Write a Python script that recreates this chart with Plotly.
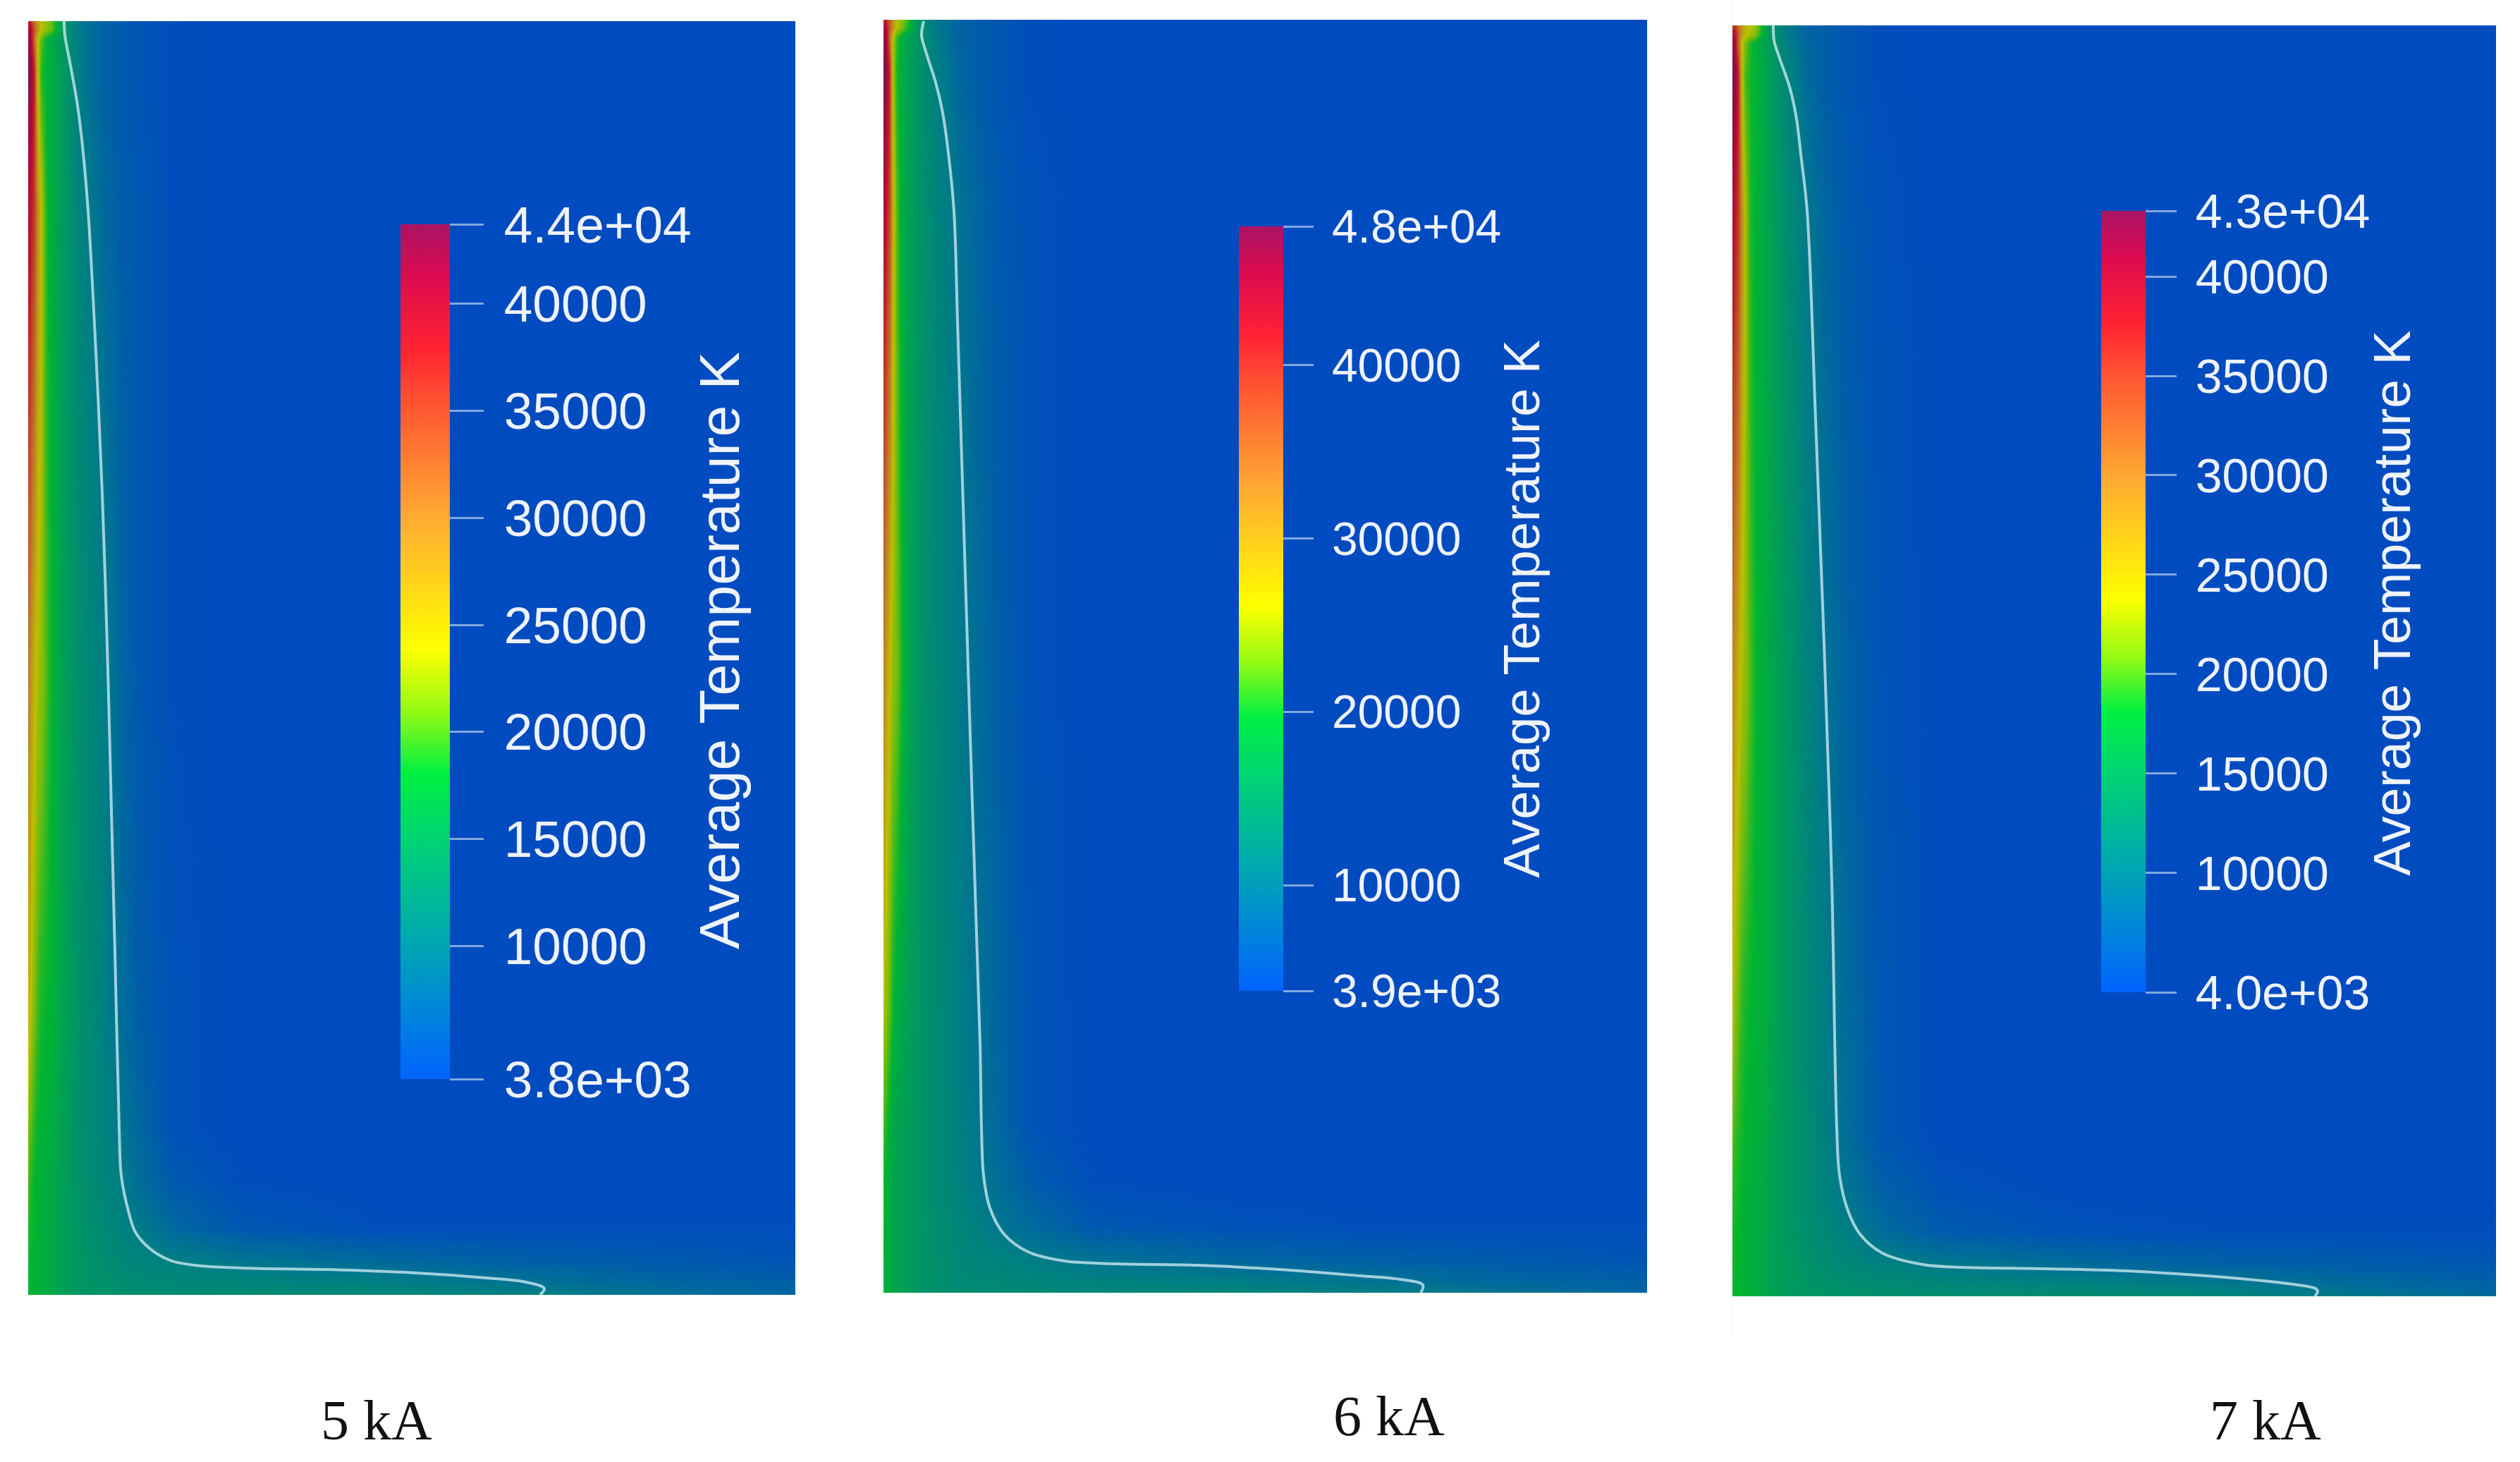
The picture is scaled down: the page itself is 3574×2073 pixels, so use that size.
import plotly.graph_objects as go

FIG_W = 3574
FIG_H = 2073

# colour stops; the field itself renders darker than its bar
COLOR_STOPS = [0, 0.155, 0.29, 0.358, 0.43, 0.504, 0.657, 0.782, 0.855, 0.94, 1]
BAR_COLORS = ["#0064ff", "#00a5b4", "#00d76e", "#00f041", "#96fa14", "#ffff00",
              "#ffaa32", "#ff5a32", "#ff2332", "#dc0a50", "#aa1464"]
FIELD_COLORS = ["#004bbf", "#007c87", "#00a153", "#00b431", "#70bc0f", "#bfbf00",
                "#bf8026", "#bf4426", "#bf1a26", "#a5083c", "#800f4b"]

CASES = ["5 kA", "6 kA", "7 kA"]
BAR_TITLE = "Average Temperature K"

# temperature range and labelled ticks of each colour bar
T_MIN_5 = 3800
T_MAX_5 = 43700
TICKS_5 = [3800, 10000, 15000, 20000, 25000, 30000, 35000, 40000, 43700]
LABELS_5 = ["3.8e+03", "10000", "15000", "20000", "25000", "30000", "35000", "40000", "4.4e+04"]

T_MIN_6 = 3900
T_MAX_6 = 48000
TICKS_6 = [3900, 10000, 20000, 30000, 40000, 48000]
LABELS_6 = ["3.9e+03", "10000", "20000", "30000", "40000", "4.8e+04"]

T_MIN_7 = 4000
T_MAX_7 = 43300
TICKS_7 = [4000, 10000, 15000, 20000, 25000, 30000, 35000, 40000, 43300]
LABELS_7 = ["4.0e+03", "10000", "15000", "20000", "25000", "30000", "35000", "40000", "4.3e+04"]

# sampling of the field: distance from the left wall and from the top of each panel
R_GRID = [0, 3, 8, 13, 18, 25, 33, 50, 73, 107, 130, 157, 207, 300, 500, 700, 900, 1088]
Z_GRID_5 = [0, 12, 25, 70, 270, 920, 1400, 1570, 1650, 1710, 1760, 1790, 1806]
Z_GRID_6 = [0, 12, 25, 70, 270, 920, 1400, 1570, 1650, 1710, 1760, 1790, 1805]
Z_GRID_7 = [0, 12, 25, 70, 270, 920, 1400, 1570, 1650, 1710, 1760, 1790, 1802]

TEMP_5 = [
    [37700, 37700, 31700, 27700, 23800, 22200, 20600, 13400, 9400, 6600, 5800, 5000, 4200, 3800, 3800, 3800, 3800, 3800],
    [40500, 40500, 33700, 28500, 23800, 22200, 20600, 14200, 9400, 6600, 5800, 5000, 4200, 3800, 3800, 3800, 3800, 3800],
    [42100, 42100, 32500, 24500, 20600, 18200, 16600, 13800, 9800, 6600, 5800, 5000, 4200, 3800, 3800, 3800, 3800, 3800],
    [43700, 42900, 37700, 24500, 19000, 17800, 17000, 14200, 9800, 6600, 5800, 5000, 4200, 3800, 3800, 3800, 3800, 3800],
    [40500, 38900, 35700, 29300, 23800, 19000, 17000, 14200, 11000, 7800, 6200, 5400, 4200, 3800, 3800, 3800, 3800, 3800],
    [30900, 28500, 25300, 23000, 22200, 20200, 18200, 15000, 12600, 10200, 7400, 5400, 4200, 3800, 3800, 3800, 3800, 3800],
    [25700, 23800, 21400, 19800, 18600, 18200, 17800, 15400, 13000, 10600, 8200, 6200, 4600, 3800, 3800, 3800, 3800, 3800],
    [21400, 20600, 19000, 18200, 17800, 17400, 17000, 15000, 13000, 11000, 9400, 7400, 4600, 3800, 3800, 3800, 3800, 3800],
    [19800, 19000, 18200, 17800, 17400, 17000, 16600, 15000, 13000, 11400, 10200, 8200, 5800, 4200, 3800, 3800, 3800, 3800],
    [19000, 18600, 18200, 17800, 17400, 17000, 16600, 15000, 13400, 11800, 11000, 9800, 7400, 5400, 4200, 4200, 4200, 4200],
    [18600, 18200, 17800, 17800, 17400, 17000, 16600, 15000, 13800, 12600, 11800, 11400, 10600, 9400, 7800, 6600, 5800, 5000],
    [18200, 18200, 17800, 17400, 17400, 17000, 16600, 15000, 13800, 13000, 12600, 12200, 11800, 11400, 10600, 9000, 7400, 6600],
    [18200, 18200, 17800, 17400, 17400, 17000, 16600, 15000, 13800, 13400, 13000, 12600, 12200, 12200, 11800, 10600, 8600, 7000],
]

TEMP_6 = [
    [41400, 41400, 35600, 31200, 26800, 24200, 21500, 13600, 10500, 7400, 6500, 5700, 4300, 3900, 3900, 3900, 3900, 3900],
    [44500, 44500, 37400, 31200, 25900, 23300, 20700, 14500, 10500, 7400, 6500, 5700, 4300, 3900, 3900, 3900, 3900, 3900],
    [46200, 46200, 35600, 25900, 21500, 18900, 17100, 14500, 11000, 7400, 6500, 5700, 4300, 3900, 3900, 3900, 3900, 3900],
    [48000, 47100, 41400, 25100, 20700, 18500, 17100, 14500, 11400, 7900, 6500, 5700, 4300, 3900, 3900, 3900, 3900, 3900],
    [44500, 42700, 38300, 28600, 22400, 18900, 17100, 14500, 12300, 9600, 7900, 6100, 4800, 3900, 3900, 3900, 3900, 3900],
    [33000, 30400, 26800, 24200, 23300, 20700, 17600, 14900, 12700, 10500, 8800, 7000, 4800, 3900, 3900, 3900, 3900, 3900],
    [25900, 24200, 22400, 20200, 18900, 17600, 16700, 14900, 13200, 11000, 9600, 7900, 5200, 3900, 3900, 3900, 3900, 3900],
    [21500, 20700, 19300, 18000, 17100, 16700, 16200, 14900, 13200, 11400, 10100, 8300, 5200, 3900, 3900, 3900, 3900, 3900],
    [20200, 19300, 18500, 17600, 17100, 16700, 16200, 14900, 13200, 11800, 10500, 9200, 6500, 4300, 3900, 3900, 3900, 3900],
    [19800, 19300, 18500, 17600, 17100, 16700, 16200, 14900, 13600, 12300, 11400, 10100, 8300, 5700, 4800, 4300, 4300, 4300],
    [19300, 18900, 18500, 17600, 17100, 16700, 16200, 14900, 14000, 12700, 12300, 11800, 11000, 9600, 7900, 7000, 6100, 5200],
    [19300, 18900, 18500, 17600, 17100, 16700, 16200, 14900, 14000, 13200, 12700, 12700, 12300, 11800, 11000, 9600, 7900, 7000],
    [19300, 18900, 18500, 17600, 17100, 16700, 16200, 14900, 14000, 13600, 13200, 13200, 12700, 12700, 12300, 11000, 9200, 7400],
]

TEMP_7 = [
    [35400, 36200, 31500, 27600, 25200, 23700, 22100, 14200, 10300, 7100, 6400, 5600, 4400, 4000, 4000, 4000, 4000, 4000],
    [38600, 39400, 33100, 27600, 24400, 22900, 21300, 15000, 10300, 7100, 6400, 5600, 4400, 4000, 4000, 4000, 4000, 4000],
    [40900, 40900, 32300, 24400, 21300, 18900, 17400, 15000, 11100, 7500, 6400, 5600, 4400, 4000, 4000, 4000, 4000, 4000],
    [43300, 42500, 37400, 24400, 19700, 18500, 17800, 15400, 11900, 7900, 6400, 5600, 4400, 4000, 4000, 4000, 4000, 4000],
    [39400, 38600, 35400, 29200, 22900, 18900, 17800, 15800, 13000, 9500, 7500, 6000, 4800, 4000, 4000, 4000, 4000, 4000],
    [29200, 27600, 25200, 22900, 22100, 20100, 18100, 16600, 14200, 11100, 9100, 7100, 5200, 4000, 4000, 4000, 4000, 4000],
    [23700, 22100, 20500, 19300, 18500, 18100, 17800, 16600, 14200, 11900, 10300, 8300, 5600, 4000, 4000, 4000, 4000, 4000],
    [20500, 19700, 18900, 18500, 18100, 17800, 17400, 16200, 14200, 12300, 10700, 8700, 5600, 4000, 4000, 4000, 4000, 4000],
    [19300, 18900, 18500, 18100, 17800, 17400, 17000, 15800, 14200, 12300, 11100, 9500, 6800, 4800, 4000, 4000, 4000, 4000],
    [18900, 18500, 18100, 18100, 17800, 17400, 17000, 15800, 14200, 12600, 11900, 10700, 8300, 6000, 4800, 4400, 4400, 4400],
    [18500, 18500, 18100, 18100, 17800, 17400, 17000, 15800, 14600, 13400, 12600, 11900, 11100, 9900, 8300, 7100, 6400, 5600],
    [18500, 18100, 18100, 17800, 17800, 17400, 17000, 15800, 14600, 13800, 13400, 13000, 12600, 11900, 11500, 10300, 8300, 7100],
    [18500, 18100, 18100, 17800, 17800, 17400, 17000, 15800, 14600, 13800, 13800, 13400, 13000, 12600, 12300, 11500, 9500, 7900],
]

# white iso-line, same units as the grids
LINE_R_5 = [51, 52, 60, 70, 77, 85, 96, 105, 113, 118, 123, 129, 132, 141, 152, 172, 201, 236, 304, 419, 534, 649, 706, 732, 726]
LINE_Z_5 = [0, 20, 63, 120, 177, 270, 470, 670, 920, 1120, 1320, 1570, 1637, 1683, 1717, 1740, 1757, 1764, 1768, 1770, 1774, 1782, 1788, 1797, 1806]

LINE_R_6 = [57, 54, 60, 74, 84, 92, 100, 105, 112, 126, 137, 139, 142, 151, 171, 205, 257, 331, 446, 561, 676, 733, 765, 762]
LINE_Z_6 = [2, 22, 45, 89, 132, 189, 272, 428, 656, 1112, 1453, 1572, 1639, 1685, 1722, 1747, 1760, 1764, 1766, 1772, 1781, 1786, 1794, 1805]

LINE_R_7 = [58, 59, 66, 81, 90, 98, 106, 118, 130, 141, 148, 152, 164, 181, 213, 270, 327, 442, 557, 672, 787, 827, 830, 826]
LINE_Z_7 = [0, 21, 44, 87, 127, 191, 264, 560, 876, 1217, 1564, 1631, 1681, 1714, 1741, 1757, 1761, 1763, 1766, 1773, 1784, 1791, 1795, 1802]

# layout of the three panels, in pixels of the page
panels = [
    dict(left=40, right=1128, top=30, bottom=1836, bar_left=568, bar_top=318, bar_bottom=1530, ticklen=48,
         size=73, title_size=80.5, title_xy=(1020, 923), caption_xy=(534, 2014), caption_size=80,
         r=R_GRID, z=Z_GRID_5, temp=TEMP_5, t_min=T_MIN_5, t_max=T_MAX_5, ticks=TICKS_5, labels=LABELS_5,
         line_r=LINE_R_5, line_z=LINE_Z_5),
    dict(left=1253, right=2336, top=28, bottom=1833, bar_left=1757, bar_top=321, bar_bottom=1405, ticklen=43,
         size=66, title_size=72.5, title_xy=(2157, 864), caption_xy=(1970, 2008), caption_size=80,
         r=R_GRID, z=Z_GRID_6, temp=TEMP_6, t_min=T_MIN_6, t_max=T_MAX_6, ticks=TICKS_6, labels=LABELS_6,
         line_r=LINE_R_6, line_z=LINE_Z_6),
    dict(left=2457, right=3540, top=36, bottom=1838, bar_left=2980, bar_top=299, bar_bottom=1407, ticklen=44,
         size=68, title_size=73.5, title_xy=(3392, 855), caption_xy=(3213, 2014), caption_size=80,
         r=R_GRID, z=Z_GRID_7, temp=TEMP_7, t_min=T_MIN_7, t_max=T_MAX_7, ticks=TICKS_7, labels=LABELS_7,
         line_r=LINE_R_7, line_z=LINE_Z_7),
]

bar_scale = [[s, c] for s, c in zip(COLOR_STOPS, BAR_COLORS)]
field_scale = [[s, c] for s, c in zip(COLOR_STOPS, FIELD_COLORS)]

fig = go.Figure()
annotations = []

for i, p in enumerate(panels):
    n = "" if i == 0 else str(i + 1)
    xa = "x" + n
    ya = "y" + n

    fig.add_trace(go.Heatmap(x=p["r"], y=p["z"], z=p["temp"], zmin=p["t_min"], zmax=p["t_max"],
                             colorscale=field_scale, zsmooth="best", showscale=False,
                             hoverinfo="skip", xaxis=xa, yaxis=ya))

    # the bar is brighter than the field, so it gets its own off-range trace
    # tickprefix is ignored with array ticks, so the thin space that opens the label gap goes in the text
    fig.add_trace(go.Heatmap(x=[-60, -40], y=[0], z=[[p["t_min"], p["t_max"]]], zmin=p["t_min"], zmax=p["t_max"],
                             colorscale=bar_scale, hoverinfo="skip", xaxis=xa, yaxis=ya,
                             colorbar=dict(
                                 x=p["bar_left"] / FIG_W, xanchor="left", xpad=0,
                                 y=1 - p["bar_bottom"] / FIG_H, yanchor="bottom", ypad=0,
                                 len=(p["bar_bottom"] - p["bar_top"]) / FIG_H, lenmode="fraction",
                                 thickness=70 if i == 0 else 63, thicknessmode="pixels",
                                 outlinewidth=0, borderwidth=0,
                                 tickmode="array", tickvals=p["ticks"],
                                 ticktext=["\u2009" + s for s in p["labels"]],
                                 ticks="outside", ticklen=p["ticklen"], tickwidth=3,
                                 tickcolor="rgba(215,228,250,0.6)",
                                 tickfont=dict(family="Liberation Sans", size=p["size"], color="#eef3fd"))))

    fig.add_trace(go.Scatter(x=p["line_r"], y=p["line_z"], mode="lines",
                             line=dict(color="rgba(205,235,242,0.78)", width=4, shape="spline", smoothing=1.0),
                             hoverinfo="skip", showlegend=False, xaxis=xa, yaxis=ya))

    fig.update_layout({
        "xaxis" + n: dict(domain=[p["left"] / FIG_W, p["right"] / FIG_W], range=[0, p["right"] - p["left"]],
                          visible=False, anchor=ya),
        "yaxis" + n: dict(domain=[1 - p["bottom"] / FIG_H, 1 - p["top"] / FIG_H], range=[p["bottom"] - p["top"], 0],
                          visible=False, anchor=xa),
    })

    annotations.append(dict(text=BAR_TITLE, textangle=-90, showarrow=False,
                            x=p["title_xy"][0] / FIG_W, y=1 - p["title_xy"][1] / FIG_H,
                            xref="paper", yref="paper", xanchor="center", yanchor="middle",
                            font=dict(family="Liberation Sans", size=p["title_size"], color="#eef3fd")))
    annotations.append(dict(text=CASES[i], showarrow=False,
                            x=p["caption_xy"][0] / FIG_W, y=1 - p["caption_xy"][1] / FIG_H,
                            xref="paper", yref="paper", xanchor="center", yanchor="middle",
                            font=dict(family="Liberation Serif", size=p["caption_size"], color="#111111")))

fig.update_layout(
    width=FIG_W, height=FIG_H,
    margin=dict(l=0, r=0, t=0, b=0, pad=0, autoexpand=False),
    paper_bgcolor="white", plot_bgcolor="white",
    showlegend=False,
    annotations=annotations,
    # faint seam of the pasted image beside the third panel
    shapes=[dict(type="line", xref="paper", yref="paper", x0=2456 / FIG_W, x1=2456 / FIG_W,
                 y0=1 - 1890 / FIG_H, y1=1, line=dict(color="#eeeeee", width=1), layer="below")],
)

fig.write_html("out.html", config={"displayModeBar": False},
               post_script="document.body.style.margin='0';")
